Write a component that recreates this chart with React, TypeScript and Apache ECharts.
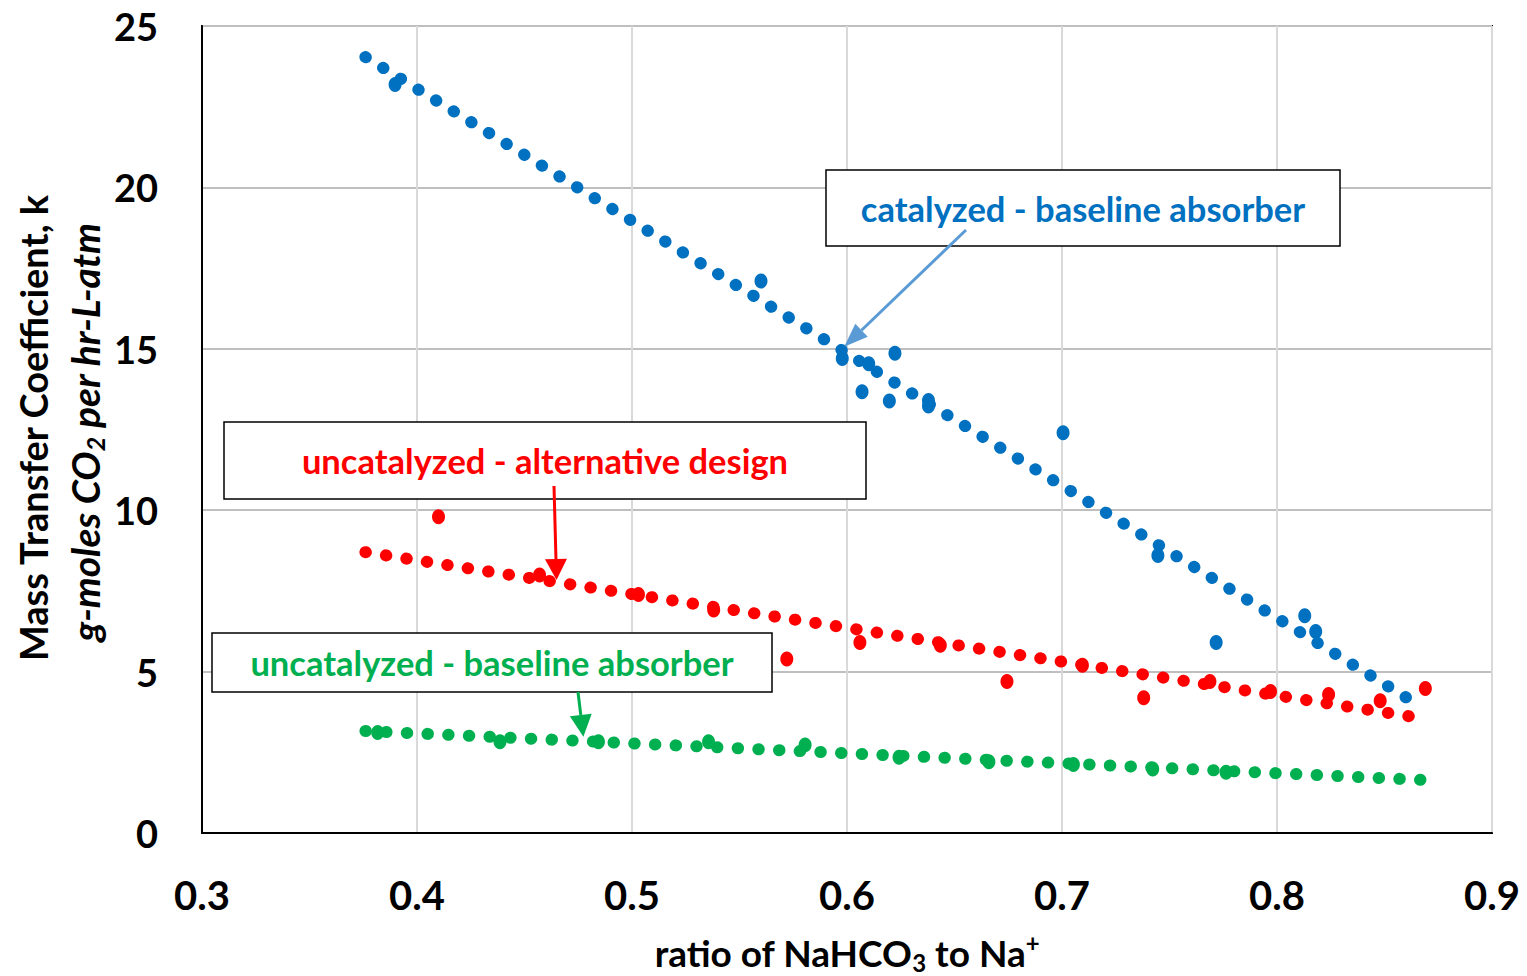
import React, { useEffect, useRef } from "react";
import * as echarts from "echarts";

// ---- data ----
const blueX = [0.3898, 0.56, 0.5978, 0.6101, 0.6223, 0.607, 0.6197, 0.6379, 0.6379, 0.7005, 0.7446, 0.7717, 0.8129, 0.818];
const blueY = [23.19, 17.1, 14.7, 14.54, 14.86, 13.67, 13.38, 13.4, 13.23, 12.4, 8.6, 5.9, 6.73, 6.24];

const redX = [0.41, 0.457, 0.503, 0.538, 0.572, 0.606, 0.6434, 0.6744, 0.7095, 0.738, 0.7688, 0.797, 0.824, 0.848, 0.869];
const redY = [9.8, 7.99, 7.39, 6.91, 5.39, 5.9, 5.82, 4.69, 5.2, 4.19, 4.69, 4.38, 4.29, 4.1, 4.48];

const greenX = [0.3817, 0.4386, 0.4844, 0.5356, 0.5805, 0.6242, 0.666, 0.7053, 0.7422, 0.7763];
const greenY = [3.11, 2.83, 2.83, 2.83, 2.73, 2.35, 2.21, 2.12, 1.98, 1.88];

// trendline end points
const blueTrendX = [0.376, 0.862];
const blueTrendY = [24.04, 4.12];
const redTrendX = [0.376, 0.864];
const redTrendY = [8.7, 3.59];
const greenTrendX = [0.376, 0.869];
const greenTrendY = [3.16, 1.64];

const xTicks = [0.3, 0.4, 0.5, 0.6, 0.7, 0.8, 0.9];
const yTicks = [0, 5, 10, 15, 20, 25];

const labels = {
  blue: "catalyzed - baseline absorber",
  red: "uncatalyzed - alternative design",
  green: "uncatalyzed - baseline absorber",
};
// arrow tips in data coordinates
const blueTip = [0.5987, 15.06];
const redTip = [0.4649, 7.84];
const greenTip = [0.4774, 2.98];

const BLUE = "#0070C0";
const RED = "#FF0000";
const GREEN = "#00B050";
const FONT = "Lato, 'Open Sans', sans-serif";

const zip = (xs: number[], ys: number[]) => xs.map((x, i) => [x, ys[i]]);

function arrow(x1: number, y1: number, x2: number, y2: number, color: string, w: number, hl: number, hw: number) {
  const dx = x2 - x1;
  const dy = y2 - y1;
  const len = Math.sqrt(dx * dx + dy * dy);
  const ux = dx / len;
  const uy = dy / len;
  const bx = x2 - ux * hl;
  const by = y2 - uy * hl;
  const px = -uy;
  const py = ux;
  return [
    { type: "line", z: 100, shape: { x1, y1, x2: bx, y2: by }, style: { stroke: color, lineWidth: w } },
    {
      type: "polygon",
      z: 100,
      shape: { points: [[x2, y2], [bx + px * hw / 2, by + py * hw / 2], [bx - px * hw / 2, by - py * hw / 2]] },
      style: { fill: color },
    },
  ];
}

function box(x: number, y: number, w: number, h: number, text: string, color: string, size: number) {
  return [
    { type: "rect", z: 90, shape: { x, y, width: w, height: h }, style: { fill: "#fff", stroke: "#000", lineWidth: 1.5 } },
    {
      type: "text",
      z: 95,
      x: x + w / 2,
      y: y + h / 2,
      style: { text, fill: color, font: `bold ${size}px ${FONT}`, align: "center", verticalAlign: "middle" },
    },
  ];
}

export default function App() {
  const ref = useRef<HTMLDivElement>(null);
  useEffect(() => {
    if (!ref.current) return;
    const chart = echarts.init(ref.current, null, { renderer: "svg" });
    const trendStyle = (c: string) => ({ color: c, width: 12, type: [0.5, 20.2], cap: "round", opacity: 1 });
    const dot = (c: string) => ({ color: c, opacity: 1 });
    chart.setOption({
      animation: false,
      backgroundColor: "#fff",
      grid: { left: 202, top: 26, right: 35, bottom: 143, show: true, borderColor: "#000", borderWidth: 2 },
      xAxis: {
        type: "value",
        min: xTicks[0],
        max: xTicks[xTicks.length - 1],
        interval: 0.1,
        axisLine: { show: true, lineStyle: { color: "#000", width: 2 } },
        axisTick: { show: false },
        splitLine: { show: true, lineStyle: { color: "#D9D9D9", width: 2 } },
        axisLabel: { formatter: (v: number) => v.toFixed(1), color: "#000", fontFamily: FONT, fontWeight: "bold", fontSize: 40, margin: 42 },
      },
      yAxis: {
        type: "value",
        min: yTicks[0],
        max: yTicks[yTicks.length - 1],
        interval: 5,
        axisLine: { show: true, lineStyle: { color: "#000", width: 2 } },
        axisTick: { show: false },
        splitLine: { show: true, lineStyle: { color: "#BFBFBF", width: 2 } },
        axisLabel: { color: "#000", fontFamily: FONT, fontWeight: "bold", fontSize: 38, margin: 44 },
      },
      series: [
        { type: "line", data: zip(blueTrendX, blueTrendY), showSymbol: false, lineStyle: trendStyle(BLUE), z: 3 },
        { type: "line", data: zip(redTrendX, redTrendY), showSymbol: false, lineStyle: trendStyle(RED), z: 3 },
        { type: "line", data: zip(greenTrendX, greenTrendY), showSymbol: false, lineStyle: trendStyle(GREEN), z: 3 },
        { type: "scatter", data: zip(blueX, blueY), symbolSize: [13, 15], itemStyle: dot(BLUE), z: 4 },
        { type: "scatter", data: zip(redX, redY), symbolSize: [13, 15], itemStyle: dot(RED), z: 4 },
        { type: "scatter", data: zip(greenX, greenY), symbolSize: [13, 15], itemStyle: dot(GREEN), z: 4 },
      ],
    });

    const bt = chart.convertToPixel({ gridIndex: 0 }, blueTip) as number[];
    const rt = chart.convertToPixel({ gridIndex: 0 }, redTip) as number[];
    const gt = chart.convertToPixel({ gridIndex: 0 }, greenTip) as number[];

    chart.setOption({
      graphic: [
        ...box(826, 170, 514, 76, labels.blue, BLUE, 34.5),
        ...box(224, 422, 642, 77, labels.red, RED, 34.5),
        ...box(212, 633, 560, 59, labels.green, GREEN, 34.5),
        ...arrow(966, 230, bt[0], bt[1], "#5B9BD5", 3, 24, 18),
        ...arrow(554, 486, rt[0], rt[1], RED, 3, 21, 22),
        ...arrow(578, 692, gt[0], gt[1], GREEN, 3, 22, 22),
        {
          type: "text",
          x: 847,
          y: 952,
          style: {
            text: "{a|ratio of NaHCO}{s|3}{a| to Na}{p|+}",
            align: "center",
            verticalAlign: "middle",
            rich: {
              a: { font: `bold 37px ${FONT}`, fill: "#000" },
              s: { font: `bold 24px ${FONT}`, fill: "#000", padding: [20, 0, 0, 0] },
              p: { font: `bold 24px ${FONT}`, fill: "#000", padding: [0, 0, 20, 0] },
            },
          },
        },
        {
          type: "text",
          x: 33,
          y: 428,
          rotation: Math.PI / 2,
          style: { text: "Mass Transfer Coefficient, k", font: `bold 38px ${FONT}`, fill: "#000", align: "center", verticalAlign: "middle" },
        },
        {
          type: "text",
          x: 85,
          y: 432,
          rotation: Math.PI / 2,
          style: {
            text: "{a|g-moles CO}{s|2}{a| per hr-L-atm}",
            align: "center",
            verticalAlign: "middle",
            rich: {
              a: { font: `italic bold 39px ${FONT}`, fill: "#000" },
              s: { font: `italic bold 25px ${FONT}`, fill: "#000", padding: [20, 0, 0, 0] },
            },
          },
        },
      ],
    });
    return () => chart.dispose();
  }, []);
  return <div ref={ref} style={{ position: "fixed", left: 0, top: 0, width: 1527, height: 976 }} />;
}
